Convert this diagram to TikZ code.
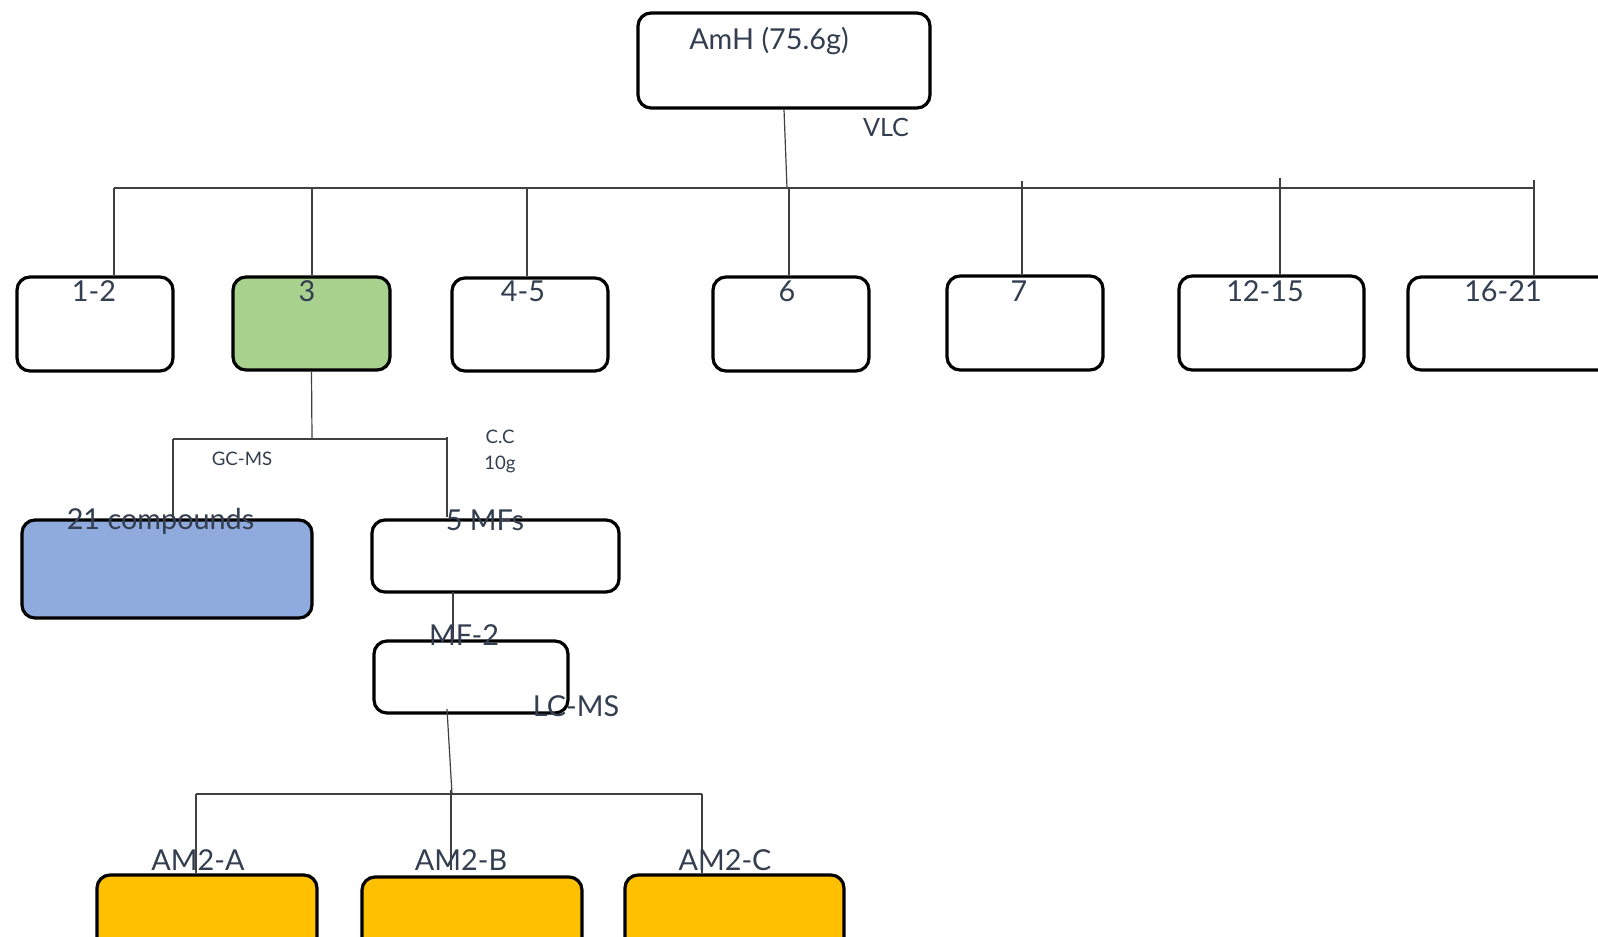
\documentclass[tikz,border=0pt]{standalone}
\usepackage{fontspec}
\setmainfont{Lato}
\definecolor{txt}{HTML}{333F50}
\definecolor{conn}{HTML}{404040}
\definecolor{green3}{HTML}{A9D18E}
\definecolor{blue21}{HTML}{8FAADC}
\definecolor{goldam}{HTML}{FFC000}
\begin{document}
\begin{tikzpicture}[x=0.5pt,y=-0.5pt,
  box/.style={draw=black,line width=1.6pt,rounded corners=6.5pt,inner sep=0pt,fill=white},
  conline/.style={draw=conn,line width=0.6pt},
  big/.style={text=txt,inner sep=0pt,anchor=base,font=\fontsize{14.4}{16}\selectfont},
  small/.style={text=txt,inner sep=0pt,anchor=base,font=\fontsize{9.3}{11}\selectfont},
  mid/.style={text=txt,inner sep=0pt,anchor=base,font=\fontsize{12.6}{14}\selectfont}]
\clip (0,0) rectangle (1598,936);
\fill[white] (0,0) rectangle (1598,936);
% boxes
\node[box,minimum width=146pt,minimum height=47.5pt] (amh) at (784,60.5) {};
\node[box,minimum width=78pt,minimum height=47pt] (b12) at (95,324) {};
\node[box,fill=green3,minimum width=78.5pt,minimum height=46.5pt] (b3) at (311.5,323.5) {};
\node[box,minimum width=78pt,minimum height=46.5pt] (b45) at (530,324.5) {};
\node[box,minimum width=78pt,minimum height=47pt] (b6) at (791,324) {};
\node[box,minimum width=78pt,minimum height=47pt] (b7) at (1025,323) {};
\node[box,minimum width=92.5pt,minimum height=47pt] (b1215) at (1271.5,323) {};
\node[box,minimum width=116pt,minimum height=46.5pt] (b1621) at (1524,323.5) {};
\node[box,fill=blue21,minimum width=145pt,minimum height=49pt] (b21) at (167,569) {};
\node[box,minimum width=123.5pt,minimum height=36pt] (b5mf) at (495.5,556) {};
\node[box,minimum width=97pt,minimum height=36pt] (bmf2) at (471,677) {};
\node[box,fill=goldam,minimum width=110pt,minimum height=42.5pt] (bA) at (207,917.5) {};
\node[box,fill=goldam,minimum width=110pt,minimum height=41.5pt] (bB) at (472,918.5) {};
\node[box,fill=goldam,minimum width=109.5pt,minimum height=42.5pt] (bC) at (734.5,917.5) {};
% coordinates
\coordinate (busL) at (114,188);
\coordinate (busR) at (1534,188);
\coordinate (vam) at (787,188);
\coordinate (v1) at (114,188);
\coordinate (v3) at (312,188);
\coordinate (v45) at (527,188);
\coordinate (v6) at (789,188);
\coordinate (v7) at (1022,181);
\coordinate (v1215) at (1280,178);
\coordinate (v1621) at (1534,180);
\coordinate (s3) at (312,439);
\coordinate (bus2L) at (173,439);
\coordinate (bus2R) at (447,439);
\coordinate (e21) at (173,518);
\coordinate (r2) at (447,437);
\coordinate (e5) at (447,517);
\coordinate (m1) at (453,592);
\coordinate (m2) at (447,709);
\coordinate (m3) at (452,794);
\coordinate (bus3L) at (196,794);
\coordinate (bus3R) at (702,794);
\coordinate (vb) at (451,790);
\coordinate (eb) at (451,870);
% connectors
\draw[conline] (amh.south) -- (vam);
\draw[conline] (busL) -- (busR);
\draw[conline] (v1) -- (v1 |- b12.north);
\draw[conline] (v3) -- (v3 |- b3.north);
\draw[conline] (v45) -- (v45 |- b45.north);
\draw[conline] (v6) -- (v6 |- b6.north);
\draw[conline] (v7) -- (v7 |- b7.north);
\draw[conline] (v1215) -- (v1215 |- b1215.north);
\draw[conline] (v1621) -- (v1621 |- b1621.north);
\draw[conline] (b3.south) -- (s3);
\draw[conline] (bus2L) -- (bus2R);
\draw[conline] (bus2L) -- (e21);
\draw[conline] (r2) -- (e5);
\draw[conline] (m1) -- (m1 |- bmf2.north);
\draw[conline] (m2) -- (m3);
\draw[conline] (bus3L) -- (bus3R);
\draw[conline] (bus3L) -- (bus3L |- bA.north);
\draw[conline] (vb) -- (eb);
\draw[conline] (bus3R) -- (bus3R |- bC.north);
% texts
\node[big] (tamh) at (769,50) {AmH (75.6g)};
\node[mid] (tvlc) at (886,137) {VLC};
\node[big] (t12) at (94,301) {1-2};
\node[big] (t3) at (307,301) {3};
\node[big] (t45) at (523,301) {4-5};
\node[big] (t6) at (787,301) {6};
\node[big] (t7) at (1019,301) {7};
\node[big] (t1215) at (1265,301) {12-15};
\node[big] (t1621) at (1503,301) {16-21};
\node[small] (tgc) at (242,465) {GC-MS};
\node[small] (tcc) at (500,443) {C.C};
\node[small] (t10g) at (500,469) {10g};
\node[big] (t21) at (160.5,529) {21 compounds};
\node[big] (t5mf) at (485,530) {5 MFs};
\node[big] (tmf2) at (464,645) {MF-2};
\node[big] (tlc) at (576,716) {LC-MS};
\node[big] (tA) at (198,870) {AM2-A};
\node[big] (tB) at (461,870) {AM2-B};
\node[big] (tC) at (725,870) {AM2-C};
\end{tikzpicture}
\end{document}
